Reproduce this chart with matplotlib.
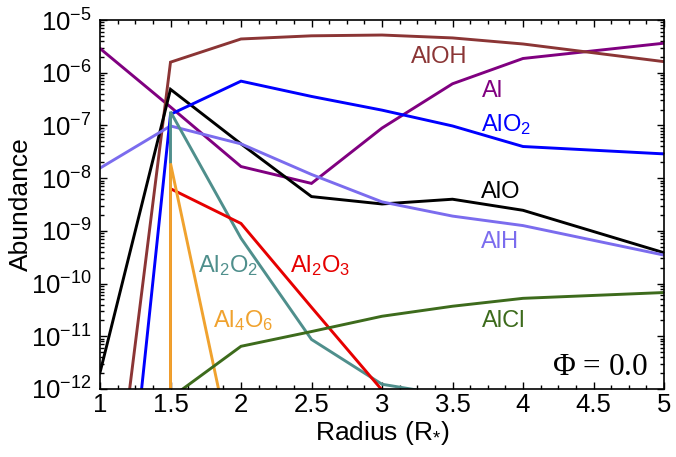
import numpy as np
import matplotlib
matplotlib.use("Agg")
import matplotlib.pyplot as plt
from matplotlib.ticker import MultipleLocator, LogLocator, NullFormatter

plt.rcParams["font.family"] = ["Liberation Sans", "DejaVu Sans"]
plt.rcParams["mathtext.fontset"] = "custom"
plt.rcParams["mathtext.rm"] = "Liberation Sans"
plt.rcParams["mathtext.it"] = "Liberation Sans"
plt.rcParams["mathtext.default"] = "regular"
plt.rcParams["axes.unicode_minus"] = False

# Abundance profiles (log10 of fractional abundance) versus radius
radius = [1.0, 1.5, 2.0, 2.5, 3.0, 3.5, 4.0, 5.0]
log_al = [-5.54, -6.65, -7.78, -8.10, -7.05, -6.21, -5.73, -5.44]
log_alo = [-11.69, -6.315, -7.35, -8.35, -8.49, -8.40, -8.61, -9.415]
log_aloh = [-16.5, -5.80, -5.36, -5.30, -5.285, -5.34, -5.455, -5.79]
log_alo2 = [-19.5, -6.79, -6.16, -6.45, -6.71, -7.01, -7.40, -7.54]
log_alh = [-7.81, -7.01, -7.35, -7.93, -8.45, -8.72, -8.90, -9.46]
log_alcl = [-14.0, -12.17, -11.19, -10.91, -10.62, -10.43, -10.28, -10.17]

# Clusters only appear from 1.5 R* outward (sharp onset at 1.5)
radius_cluster = [1.5, 1.5, 2.0, 2.5, 3.0, 3.5]
log_al2o2 = [-20.0, -6.74, -9.14, -11.06, -11.91, -12.13]
log_al2o3 = [-20.0, -8.20, -8.86, -10.45, -12.02, -14.0]
radius_al4o6 = [1.5, 1.5, 2.0]
log_al4o6 = [-20.0, -7.72, -14.0]

species = [
    ("Al", radius, log_al, "#800080"),
    ("AlOH", radius, log_aloh, "#8b3535"),
    ("AlO", radius, log_alo, "#000000"),
    ("AlH", radius, log_alh, "#7b6cee"),
    ("AlO2", radius, log_alo2, "#0000ff"),
    ("Al2O2", radius_cluster, log_al2o2, "#4f8f8c"),
    ("Al2O3", radius_cluster, log_al2o3, "#e60000"),
    ("Al4O6", radius_al4o6, log_al4o6, "#f0a22e"),
    ("AlCl", radius, log_alcl, "#3d6b1c"),
]

# label text, x, log10 y (baseline), colour
labels = [
    ("AlOH", 3.204, -5.81, "#8b3535"),
    ("Al", 3.707, -6.455, "#800080"),
    ("AlO$_2$", 3.702, -7.10, "#0000ff"),
    ("AlO", 3.702, -8.383, "#000000"),
    ("AlH", 3.702, -9.321, "#7b6cee"),
    ("AlCl", 3.707, -10.82, "#3d6b1c"),
    ("Al$_2$O$_2$", 1.697, -9.776, "#4f8f8c"),
    ("Al$_2$O$_3$", 2.348, -9.776, "#e60000"),
    ("Al$_4$O$_6$", 1.803, -10.82, "#f0a22e"),
]

fig = plt.figure(figsize=(6.76, 4.57), dpi=100)
ax = fig.add_axes([100 / 676, 1 - 389 / 457, 564 / 676, 369 / 457])

for name, r, logv, col in species:
    ax.plot(r, 10.0 ** np.array(logv), color=col, lw=2.1, solid_joinstyle="miter")

for text, x, ly, col in labels:
    ax.text(x, 10.0 ** ly, text, color=col, fontsize=17, ha="left", va="baseline")

ax.text(4.889, 10.0 ** -11.736, r"$\Phi$ = 0.0", fontsize=22.5, ha="right", va="baseline",
        family=["Liberation Serif", "DejaVu Serif"], math_fontfamily="stix")

ax.set_xlim(1, 5)
ax.set_yscale("log")
ax.set_ylim(1e-12, 1e-5)

ax.xaxis.set_major_locator(MultipleLocator(0.5))
ax.xaxis.set_minor_locator(MultipleLocator(0.125))
ax.xaxis.set_major_formatter(plt.FuncFormatter(lambda v, p: f"{v:g}"))
ax.yaxis.set_major_locator(LogLocator(base=10, numticks=20))
ax.yaxis.set_minor_locator(LogLocator(base=10, subs=np.arange(2, 10), numticks=20))
ax.yaxis.set_minor_formatter(NullFormatter())
ax.yaxis.set_major_formatter(plt.FuncFormatter(lambda v, p: "10$^{%d}$" % round(np.log10(v))))

ax.tick_params(which="both", direction="in", top=True, right=True, width=1.0)
ax.tick_params(which="major", length=5, labelsize=18.5)
ax.tick_params(which="minor", length=2.8)
ax.tick_params(axis="x", which="major", pad=3)
ax.tick_params(axis="y", which="major", pad=6)
for s in ax.spines.values():
    s.set_linewidth(1.2)

ax.set_xlabel("Radius (R$_{*}$)", fontsize=19, labelpad=1)
ax.set_ylabel("Abundance", fontsize=19)
ax.yaxis.set_label_coords(-0.118, 0.5)

fig.savefig("out.png", dpi=100)
